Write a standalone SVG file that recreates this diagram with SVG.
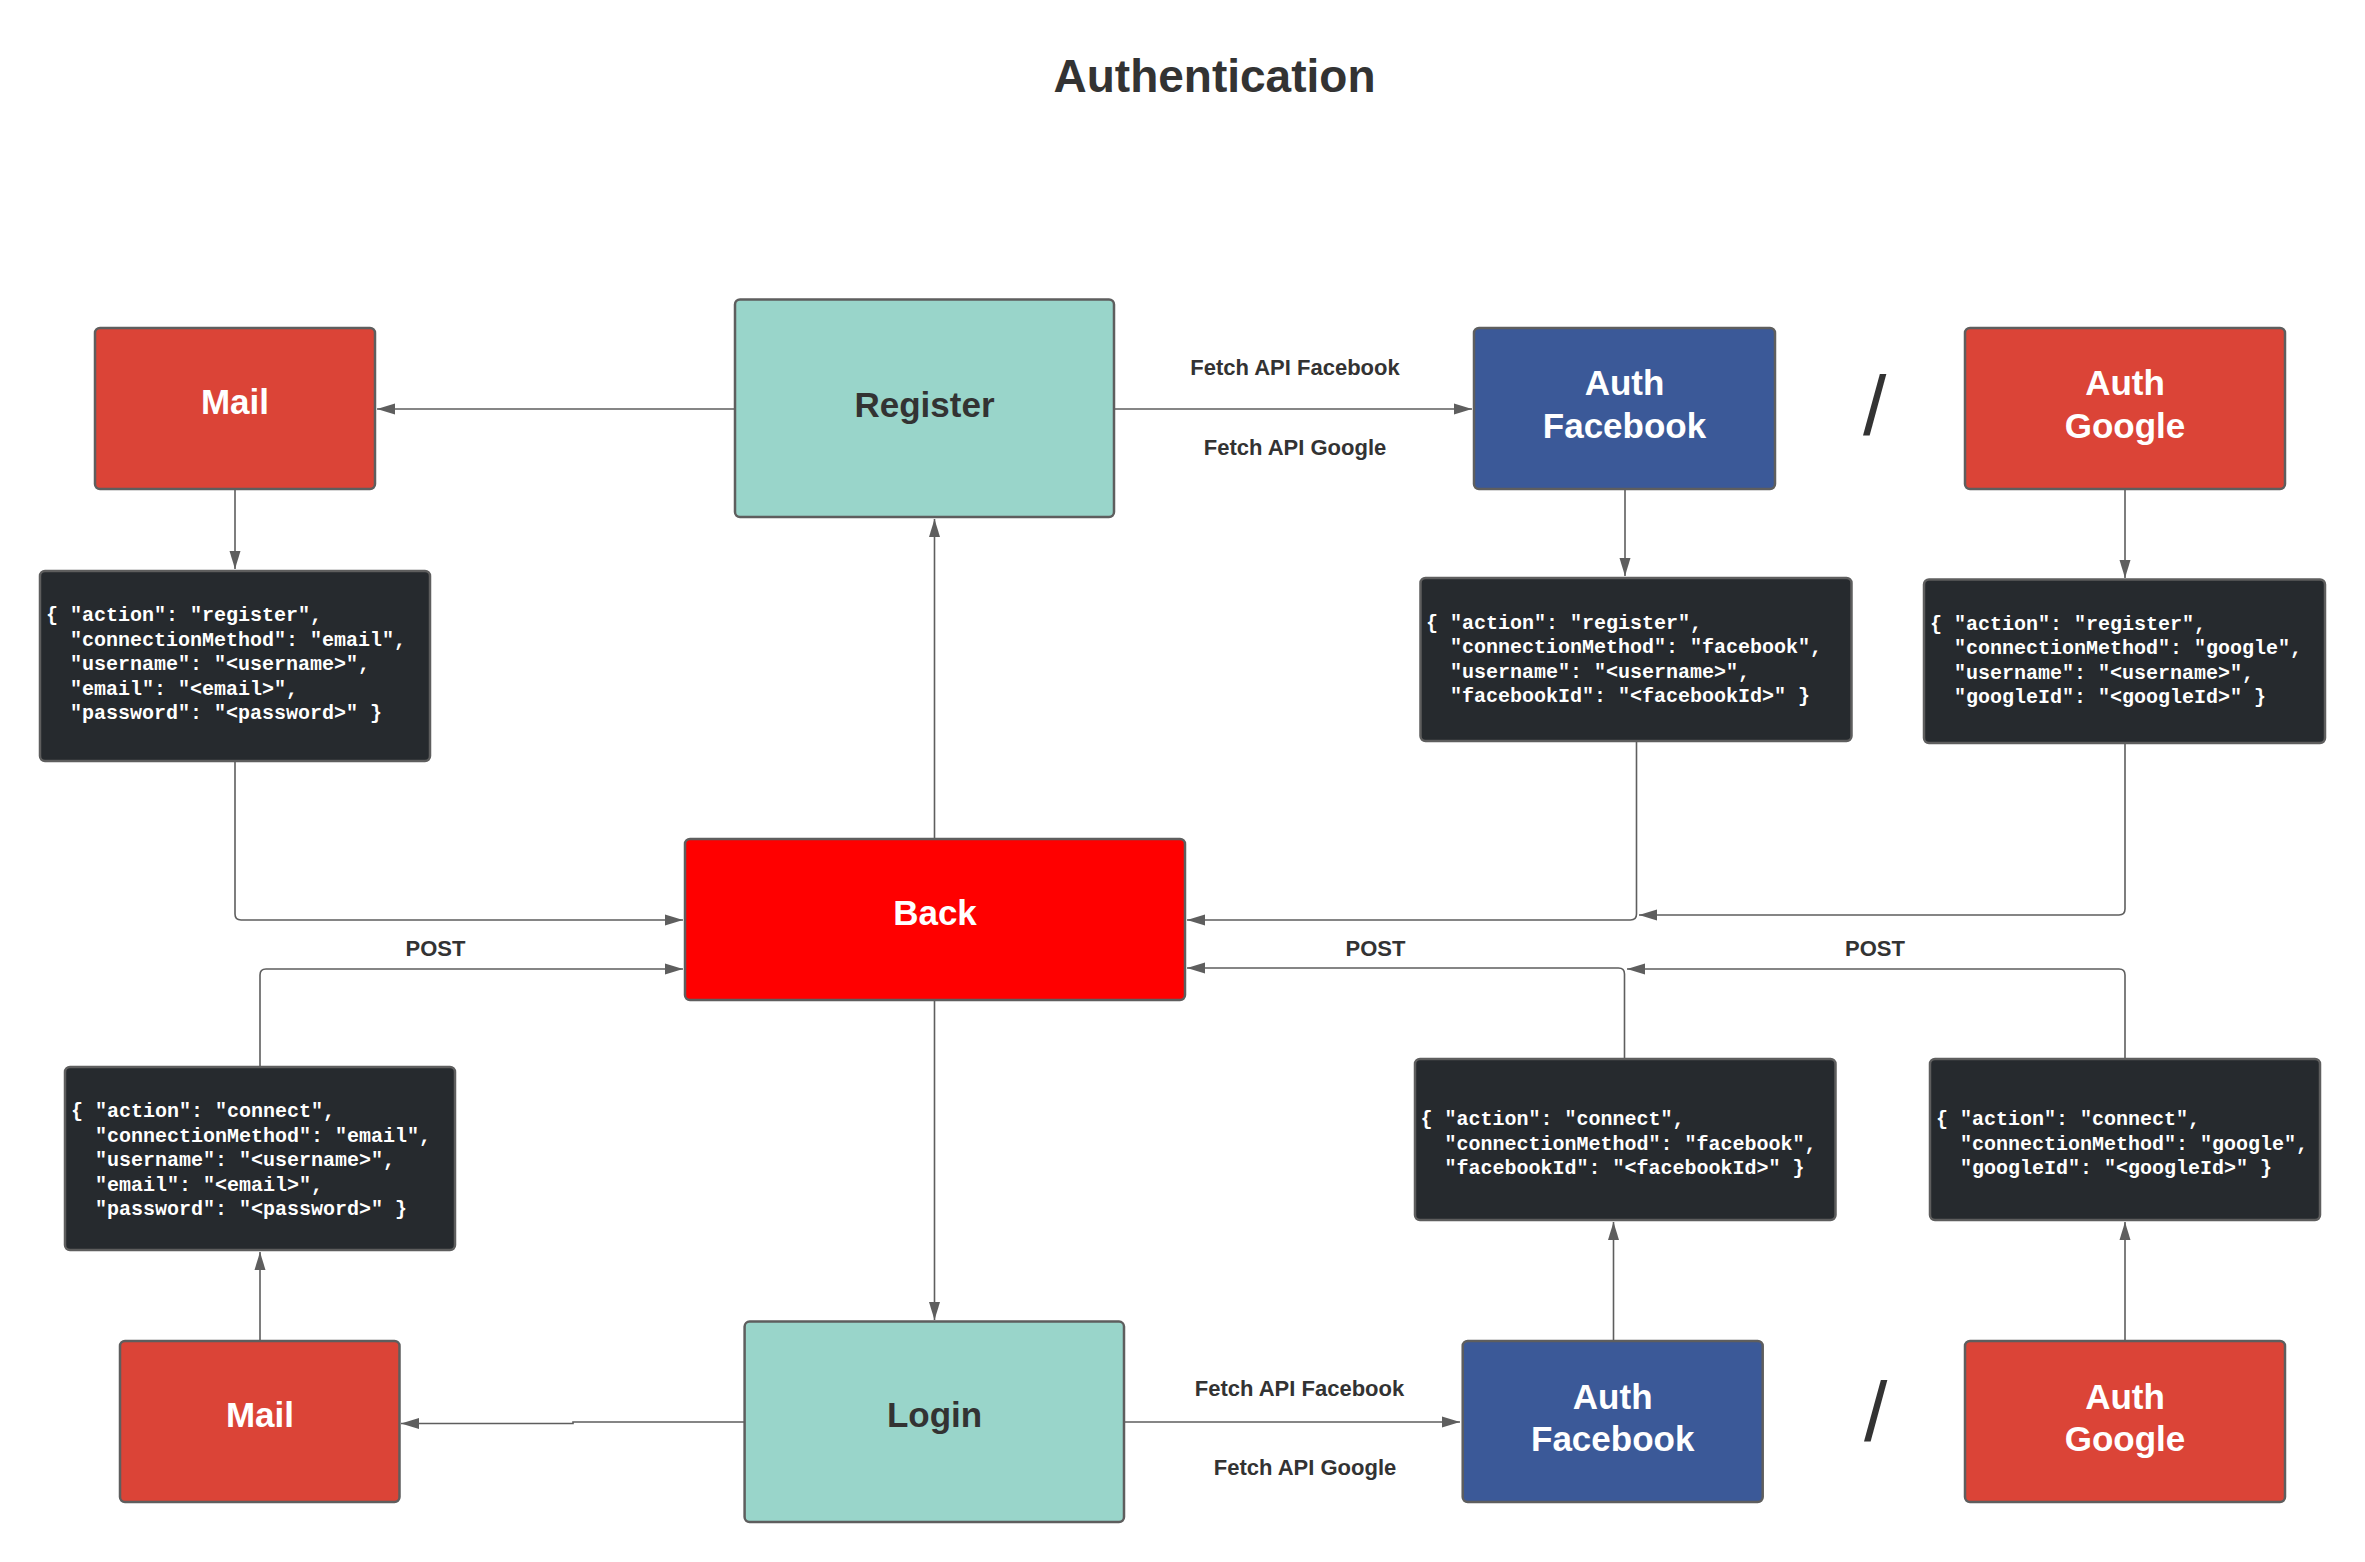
<svg xmlns="http://www.w3.org/2000/svg" width="2365" height="1562" viewBox="0 0 2365 1562">
<style>
.box{stroke:#5e5e5e;stroke-width:2.5}
.red{fill:#db4437}
.fb{fill:#3b5998}
.teal{fill:#99d5ca}
.back{fill:#ff0000}
.dark{fill:#262a2e}
.lbl{font-family:"Liberation Sans",Arial,sans-serif;font-weight:bold;font-size:35px;text-anchor:middle}
.w{fill:#ffffff}
.k{fill:#333333}
.code{font-family:"Liberation Mono","Courier New",monospace;font-weight:bold;font-size:20px;fill:#ffffff}
.conn{fill:none;stroke:#5e5e5e;stroke-width:1.6}
.el{font-family:"Liberation Sans",Arial,sans-serif;font-weight:bold;font-size:22px;fill:#333333;text-anchor:middle}
.slash{font-family:"Liberation Sans",Arial,sans-serif;font-size:84px;fill:#333333}
.title{font-family:"Liberation Sans",Arial,sans-serif;font-weight:bold;font-size:46px;fill:#333333;text-anchor:middle}
</style>
<defs>
<marker id="arr" viewBox="0 0 18 12" refX="18" refY="6" markerWidth="18" markerHeight="12" markerUnits="userSpaceOnUse" orient="auto">
<path d="M0,0.5 L18,6 L0,11.5 z" fill="#5e5e5e"/>
</marker>
</defs>
<rect width="2365" height="1562" fill="#ffffff"/>
<text class="title" x="1214.5" y="92">Authentication</text>

<g id="connectors">
<path class="conn" marker-end="url(#arr)" d="M735,409 H377"/>
<path class="conn" marker-end="url(#arr)" d="M1114,409 H1472"/>
<path class="conn" marker-end="url(#arr)" d="M235,489 V569"/>
<path class="conn" marker-end="url(#arr)" d="M1625,489 V576"/>
<path class="conn" marker-end="url(#arr)" d="M2125,489 V578"/>
<path class="conn" marker-end="url(#arr)" d="M235,761 V914 Q235,920 241,920 H683"/>
<path class="conn" marker-end="url(#arr)" d="M1636.5,741 V914 Q1636.5,920 1630.5,920 H1187"/>
<path class="conn" marker-end="url(#arr)" d="M2125,743 V909 Q2125,915 2119,915 H1639"/>
<path class="conn" marker-end="url(#arr)" d="M934.5,839 V519"/>
<path class="conn" marker-end="url(#arr)" d="M934.5,1000 V1320"/>
<path class="conn" marker-end="url(#arr)" d="M744.6,1422 H573 V1423.5 H401"/>
<path class="conn" marker-end="url(#arr)" d="M1124,1422 H1460"/>
<path class="conn" marker-end="url(#arr)" d="M260,1341 V1252"/>
<path class="conn" marker-end="url(#arr)" d="M260,1067 V975 Q260,969 266,969 H683"/>
<path class="conn" marker-end="url(#arr)" d="M1613.5,1341 V1222"/>
<path class="conn" marker-end="url(#arr)" d="M1624.5,1059 V974 Q1624.5,968 1618.5,968 H1187"/>
<path class="conn" marker-end="url(#arr)" d="M2125,1341 V1222"/>
<path class="conn" marker-end="url(#arr)" d="M2125,1059 V975 Q2125,969 2119,969 H1627"/>
<text class="el" x="1295" y="375">Fetch API Facebook</text>
<text class="el" x="1295" y="455">Fetch API Google</text>
<text class="el" x="1299.5" y="1396">Fetch API Facebook</text>
<text class="el" x="1305" y="1475">Fetch API Google</text>
<text class="el" x="435.5" y="956">POST</text>
<text class="el" x="1375.5" y="956">POST</text>
<text class="el" x="1875" y="956">POST</text>
</g>

<g id="mail-top">
<rect class="box red" x="95" y="328" width="280" height="161" rx="5"/>
<text class="lbl w" x="235" y="414">Mail</text>
</g>
<g id="register">
<rect class="box teal" x="735" y="299.5" width="379" height="217.5" rx="5"/>
<text class="lbl k" x="924.5" y="417">Register</text>
</g>
<g id="auth-facebook-top">
<rect class="box fb" x="1474" y="328" width="301" height="161" rx="5"/>
<text class="lbl w" x="1624.5" y="395">Auth</text>
<text class="lbl w" x="1624.5" y="438">Facebook</text>
</g>
<g id="slash-top"><text class="slash" x="1863" y="435">/</text></g>
<g id="auth-google-top">
<rect class="box red" x="1965" y="328" width="320" height="161" rx="5"/>
<text class="lbl w" x="2125" y="395">Auth</text>
<text class="lbl w" x="2125" y="438">Google</text>
</g>

<g id="json-register-email">
<rect class="box dark" x="40" y="571" width="390" height="190" rx="5"/>
<text class="code">
<tspan x="46" y="621">{ "action": "register",</tspan>
<tspan x="70" y="645.5">"connectionMethod": "email",</tspan>
<tspan x="70" y="670">"username": "&lt;username&gt;",</tspan>
<tspan x="70" y="694.5">"email": "&lt;email&gt;",</tspan>
<tspan x="70" y="719">"password": "&lt;password&gt;" }</tspan>
</text>
</g>
<g id="json-register-facebook">
<rect class="box dark" x="1420.5" y="578" width="431" height="163" rx="5"/>
<text class="code">
<tspan x="1426" y="628.5">{ "action": "register",</tspan>
<tspan x="1450" y="653">"connectionMethod": "facebook",</tspan>
<tspan x="1450" y="677.5">"username": "&lt;username&gt;",</tspan>
<tspan x="1450" y="702">"facebookId": "&lt;facebookId&gt;" }</tspan>
</text>
</g>
<g id="json-register-google">
<rect class="box dark" x="1924" y="579.5" width="401" height="163.5" rx="5"/>
<text class="code">
<tspan x="1930" y="629.5">{ "action": "register",</tspan>
<tspan x="1954" y="654">"connectionMethod": "google",</tspan>
<tspan x="1954" y="678.5">"username": "&lt;username&gt;",</tspan>
<tspan x="1954" y="703">"googleId": "&lt;googleId&gt;" }</tspan>
</text>
</g>

<g id="back">
<rect class="box back" x="685" y="839" width="500" height="161" rx="5"/>
<text class="lbl w" x="935" y="925">Back</text>
</g>

<g id="json-connect-email">
<rect class="box dark" x="65" y="1067" width="390" height="183" rx="5"/>
<text class="code">
<tspan x="71" y="1117">{ "action": "connect",</tspan>
<tspan x="95" y="1141.5">"connectionMethod": "email",</tspan>
<tspan x="95" y="1166">"username": "&lt;username&gt;",</tspan>
<tspan x="95" y="1190.5">"email": "&lt;email&gt;",</tspan>
<tspan x="95" y="1215">"password": "&lt;password&gt;" }</tspan>
</text>
</g>
<g id="json-connect-facebook">
<rect class="box dark" x="1415" y="1059" width="420.5" height="161" rx="5"/>
<text class="code">
<tspan x="1420.5" y="1125">{ "action": "connect",</tspan>
<tspan x="1444.5" y="1149.5">"connectionMethod": "facebook",</tspan>
<tspan x="1444.5" y="1174">"facebookId": "&lt;facebookId&gt;" }</tspan>
</text>
</g>
<g id="json-connect-google">
<rect class="box dark" x="1930" y="1059" width="390" height="161" rx="5"/>
<text class="code">
<tspan x="1936" y="1125">{ "action": "connect",</tspan>
<tspan x="1960" y="1149.5">"connectionMethod": "google",</tspan>
<tspan x="1960" y="1174">"googleId": "&lt;googleId&gt;" }</tspan>
</text>
</g>

<g id="mail-bottom">
<rect class="box red" x="120" y="1341" width="279.5" height="161" rx="5"/>
<text class="lbl w" x="260" y="1427">Mail</text>
</g>
<g id="login">
<rect class="box teal" x="744.6" y="1321.6" width="379.4" height="200.4" rx="5"/>
<text class="lbl k" x="934.5" y="1427">Login</text>
</g>
<g id="auth-facebook-bottom">
<rect class="box fb" x="1462.7" y="1341" width="300" height="161" rx="5"/>
<text class="lbl w" x="1612.7" y="1409">Auth</text>
<text class="lbl w" x="1612.7" y="1451">Facebook</text>
</g>
<g id="slash-bottom"><text class="slash" x="1864" y="1441">/</text></g>
<g id="auth-google-bottom">
<rect class="box red" x="1965" y="1341" width="320" height="161" rx="5"/>
<text class="lbl w" x="2125" y="1409">Auth</text>
<text class="lbl w" x="2125" y="1451">Google</text>
</g>
</svg>
